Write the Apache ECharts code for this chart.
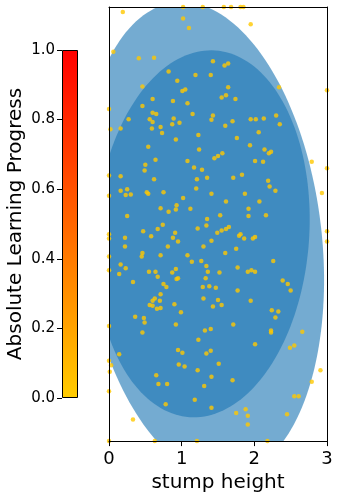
<!DOCTYPE html>
<html><head><meta charset="utf-8">
<script src="https://cdn.jsdelivr.net/npm/echarts@6/dist/echarts.min.js"></script>
<style>html,body{margin:0;padding:0;background:#fff}#c{width:340px;height:498px}</style>
</head><body><div id="c"></div>
<script>
// ---------- data ----------
const xTicks = [0, 1, 2, 3];
const yRange = [0, 6];
const colorbarTicks = [0.0, 0.2, 0.4, 0.6, 0.8, 1.0];
const colorbarColors = ['#ffcc00', '#ff0000'];
const xLabel = 'stump height';
const colorbarLabel = 'Absolute Learning Progress';

// Gaussian components (ellipses): centre, semi-axes, rotation (deg, CCW)
const ellipseCx = [1.287, 1.285];
const ellipseCy = [2.786, 2.865];
const ellipseSemiW = [1.64, 1.47];
const ellipseSemiH = [3.30, 2.54];
const ellipseAngle = [6.6, -4.0];

// sampled tasks
const pointX = [1.02,1.29,1.58,1.68,1.81,1.85,0.19,1.02,1.10,0.06,0.41,0.62,1.43,0.82,1.19,1.40,0.94,1.05,1.01,0.46,
0.60,0.88,1.08,0.46,0.0,1.95,1.64,1.59,2.34,3.0,1.64,1.61,1.55,1.74,0.60,0.65,0.89,1.15,1.43,1.41,
0.27,0.56,0.60,0.87,0.97,0.71,0.02,0.16,0.59,0.73,1.23,0.92,0.54,1.24,1.45,1.50,0.64,1.08,0.50,0.49,
1.17,1.28,0.16,0.0,0.62,1.21,1.35,1.20,0.16,0.25,0.23,0.30,0.52,0.54,0.75,1.41,0.0,1.02,0.71,0.93,
0.92,0.82,1.12,0.25,1.35,1.95,2.02,2.13,2.30,2.35,1.60,1.70,2.06,1.76,1.94,2.14,2.20,2.23,1.56,2.01,
2.12,2.79,3.0,1.83,1.71,2.19,2.21,2.29,1.87,2.93,1.61,2.07,1.92,1.53,1.92,2.16,0.74,0.67,0.47,0.91,
1.22,1.34,1.49,0.58,0.88,0.95,0.22,1.41,0.0,0.0,0.22,0.81,1.30,0.46,0.45,0.71,1.08,0.0,1.14,1.27,
0.16,0.23,0.14,0.0,0.55,0.64,0.87,0.92,1.34,1.36,1.52,0.67,0.93,0.95,1.33,0.33,0.75,0.79,1.29,1.38,
1.47,0.71,0.63,0.60,0.70,1.30,1.50,0.56,0.60,0.90,1.43,0.66,0.71,0.99,0.36,0.48,0.49,0.92,1.40,1.32,
0.0,0.46,1.55,1.61,1.65,1.79,1.81,1.86,1.98,2.01,3.0,3.0,1.60,1.75,2.26,1.77,1.91,1.96,2.01,2.39,
2.46,2.50,1.77,1.55,1.95,2.24,2.33,2.29,1.71,2.23,2.23,2.66,1.23,0.14,0.95,1.01,1.34,1.40,1.51,0.96,
1.04,1.22,0.0,0.03,0.01,0.65,1.41,0.68,0.80,1.31,0.0,1.18,0.78,1.41,0.33,0.0,0.63,1.21,2.01,2.55,
2.49,2.91,2.79,1.70,2.55,2.61,1.88,1.75,1.91,2.45,1.91,2.18];
const pointY = [6.0,6.0,6.0,6.0,6.0,6.0,5.93,5.84,5.71,5.38,5.29,5.30,5.25,5.11,5.06,5.06,4.98,4.86,4.84,4.90,
4.73,4.70,4.67,4.63,4.59,5.76,5.22,5.19,4.89,4.85,4.89,4.78,4.75,4.73,4.54,4.52,4.46,4.52,4.50,4.44,
4.45,4.45,4.41,4.38,4.40,4.34,4.31,4.32,4.32,4.26,4.23,4.17,4.07,4.03,3.91,3.94,3.89,3.87,3.82,3.74,
3.78,3.75,3.66,3.67,3.62,3.62,3.64,3.49,3.46,3.48,3.40,3.41,3.44,3.42,3.44,3.42,3.39,3.36,3.22,3.26,
3.20,3.17,3.21,3.11,3.07,4.45,4.45,4.46,4.50,4.38,4.36,4.42,4.27,4.19,4.09,4.03,3.98,4.00,3.98,3.87,
3.86,3.86,3.77,3.68,3.64,3.60,3.52,3.46,3.42,3.43,3.31,3.31,3.21,3.12,3.11,3.12,2.99,2.93,2.90,2.88,
2.94,2.98,2.88,2.83,2.81,2.76,2.81,2.77,2.86,2.80,2.69,2.69,2.69,2.60,2.55,2.57,2.57,2.55,2.48,2.49,
2.44,2.39,2.31,2.36,2.34,2.34,2.33,2.38,2.42,2.34,2.33,2.27,2.24,2.25,2.25,2.20,2.17,2.13,2.13,2.14,
2.12,2.03,1.97,1.94,1.94,1.97,1.95,1.88,1.87,1.89,1.86,1.83,1.84,1.78,1.72,1.70,1.64,1.61,1.55,1.53,
1.59,1.50,2.91,2.93,2.96,2.84,2.86,2.80,2.80,2.82,2.90,2.76,2.60,2.66,2.49,2.40,2.34,2.36,2.34,2.22,
2.17,2.08,2.08,1.88,1.94,1.81,1.79,1.71,1.61,1.53,1.50,1.51,1.40,1.20,1.26,1.22,1.21,1.25,1.07,1.06,
1.03,0.98,1.11,1.05,0.96,0.91,0.89,0.79,0.79,0.76,0.69,0.57,0.51,0.46,0.30,0.0,0.0,0.0,1.34,1.32,
1.29,0.98,0.82,0.84,0.62,0.62,0.44,0.39,0.35,0.37,0.23,0.0];

// ---------- chart ----------
const FONT = 'DejaVu Sans';
const chart = echarts.init(document.getElementById('c'), null, {renderer: 'canvas'});
const pts = pointX.map((x, i) => [x, pointY[i]]);
const ellipseData = ellipseCx.map((_, i) => [i]);

function renderEllipse(params, api) {
  const i = api.value(0);
  const cx = ellipseCx[i], cy = ellipseCy[i];
  const a = ellipseSemiW[i], b = ellipseSemiH[i];
  const th = ellipseAngle[i] * Math.PI / 180;
  const c = Math.cos(th), s = Math.sin(th);
  const poly = [];
  const N = 180;
  for (let k = 0; k < N; k++) {
    const t = 2 * Math.PI * k / N;
    const ex = a * Math.cos(t), ey = b * Math.sin(t);
    poly.push(api.coord([cx + ex * c - ey * s, cy + ex * s + ey * c]));
  }
  return {type: 'polygon', shape: {points: poly}, style: {fill: 'rgba(31,119,180,0.62)'}};
}

const lineStyle = {color: '#000', width: 1};
const option = {
  animation: false,
  backgroundColor: '#fff',
  grid: [
    {left: 109, top: 7, width: 218, height: 435, show: false},
    {left: 62, top: 50, width: 16, height: 348, show: false}
  ],
  xAxis: [
    {gridIndex: 0, type: 'value', min: xTicks[0], max: xTicks[xTicks.length - 1], interval: 1, position: 'bottom', z: 10,
     axisLine: {show: true, onZero: false, lineStyle}, axisTick: {show: true, length: 5, lineStyle},
     axisLabel: {fontFamily: FONT, fontSize: 18, color: '#000', margin: 9},
     splitLine: {show: false},
     name: xLabel, nameLocation: 'middle', nameGap: 27, nameTextStyle: {fontFamily: FONT, fontSize: 20, color: '#000'}},
    {gridIndex: 0, type: 'value', min: xTicks[0], max: xTicks[xTicks.length - 1], position: 'top', z: 10,
     axisLine: {show: true, onZero: false, lineStyle}, axisTick: {show: false}, axisLabel: {show: false}, splitLine: {show: false}},
    {gridIndex: 1, type: 'category', data: ['cb'], show: false}
  ],
  yAxis: [
    {gridIndex: 0, type: 'value', min: yRange[0], max: yRange[1], position: 'left', z: 10,
     axisLine: {show: true, onZero: false, lineStyle}, axisTick: {show: false}, axisLabel: {show: false}, splitLine: {show: false}},
    {gridIndex: 0, type: 'value', min: yRange[0], max: yRange[1], position: 'right', z: 10,
     axisLine: {show: true, onZero: false, lineStyle}, axisTick: {show: false}, axisLabel: {show: false}, splitLine: {show: false}},
    {gridIndex: 1, type: 'value', min: colorbarTicks[0], max: colorbarTicks[colorbarTicks.length - 1], interval: 0.2, position: 'left', z: 10,
     axisLine: {show: false}, axisTick: {show: true, length: 5, lineStyle},
     axisLabel: {fontFamily: FONT, fontSize: 15, color: '#000', margin: 7, formatter: v => v.toFixed(1)},
     splitLine: {show: false},
     name: colorbarLabel, nameLocation: 'middle', nameRotate: 90, nameGap: 36,
     nameTextStyle: {fontFamily: FONT, fontSize: 20, color: '#000'}}
  ],
  series: [
    {type: 'custom', xAxisIndex: 0, yAxisIndex: 0, data: ellipseData, renderItem: renderEllipse, clip: true, z: 1, silent: true,
     encode: {x: -1, y: -1}},
    {type: 'scatter', xAxisIndex: 0, yAxisIndex: 0, data: pts, symbol: 'circle', symbolSize: 4.5, clip: true, z: 3,
     itemStyle: {color: '#ffc800'}, silent: true},
    {type: 'bar', xAxisIndex: 2, yAxisIndex: 2, data: [colorbarTicks[colorbarTicks.length - 1]], barWidth: '100%', silent: true,
     itemStyle: {borderColor: '#000', borderWidth: 1,
       color: new echarts.graphic.LinearGradient(0, 1, 0, 0, [{offset: 0, color: colorbarColors[0]}, {offset: 1, color: colorbarColors[1]}])}}
  ]
};
chart.setOption(option);
</script></body></html>
